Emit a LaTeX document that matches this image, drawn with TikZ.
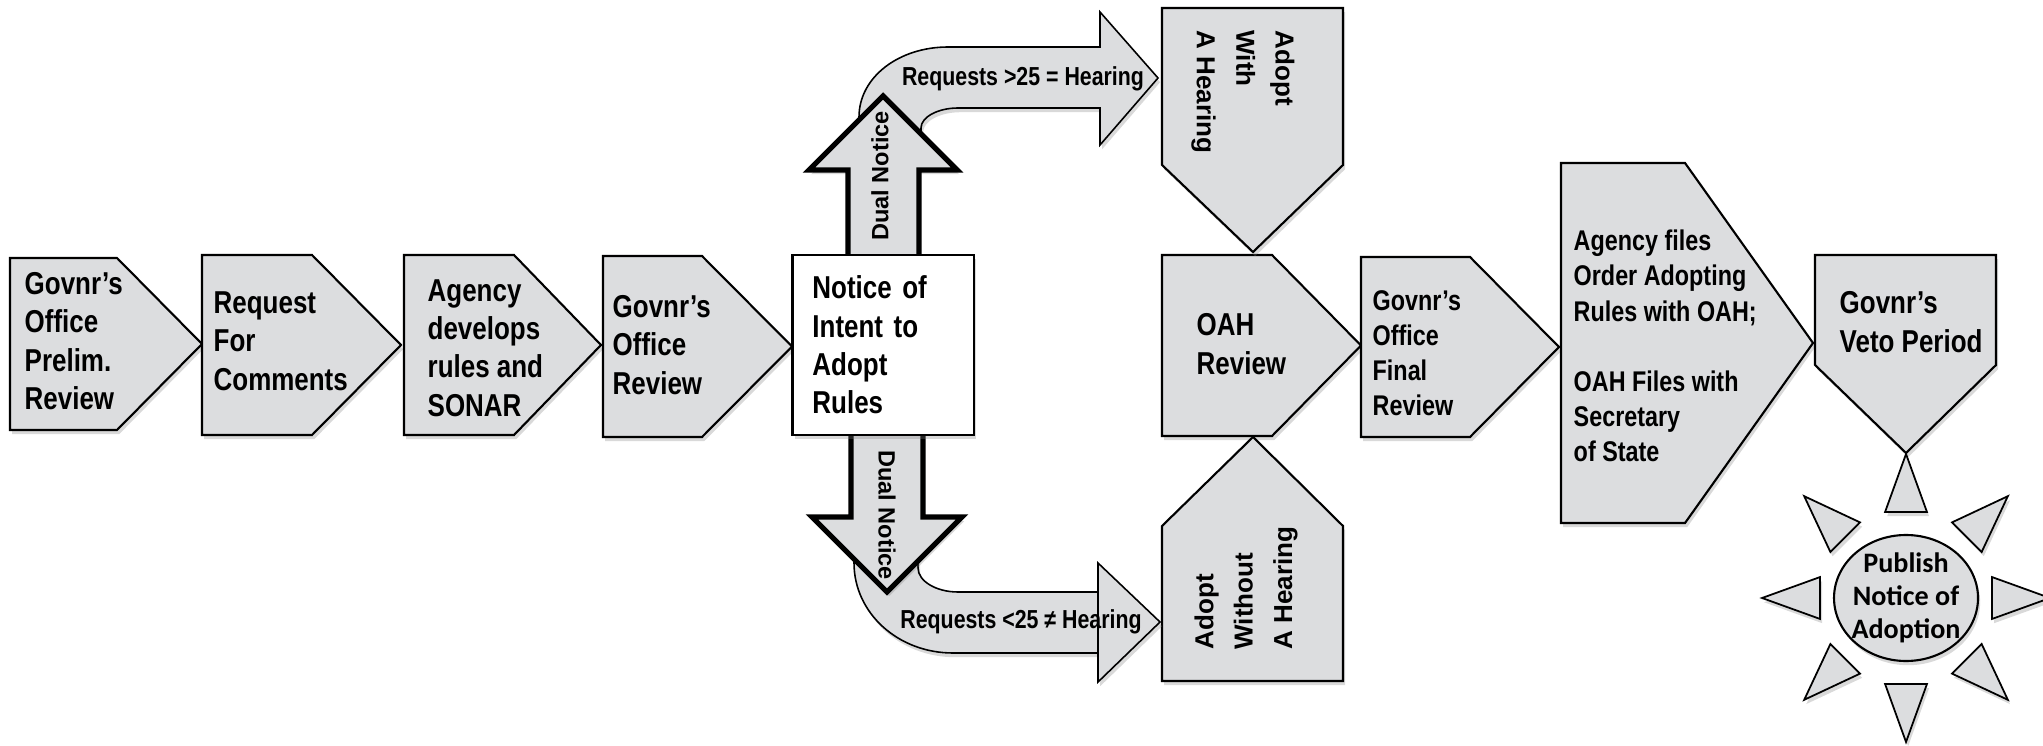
\documentclass[tikz,border=0pt]{standalone}
\usepackage{fontspec}
\usetikzlibrary{shadows}
\newfontfamily\narrowfont{Liberation Sans}[FakeStretch=0.82]
\newfontfamily\arialfont{Liberation Sans}
\newfontfamily\calibrifont{Carlito}
\definecolor{boxgray}{RGB}{220,221,223}

\begin{document}
\begin{tikzpicture}[x=0.01cm, y=-0.01cm, line join=miter]
    \tikzstyle{stage}=[draw=black, fill=boxgray, line width=0.6pt, drop shadow={shadow xshift=0.6pt, shadow yshift=-1.2pt, opacity=0.3}]
    \tikzstyle{stage text}=[anchor=west, align=left, inner sep=0pt, font=\narrowfont\bfseries\fontsize{9}{10.9}\selectfont]
    \tikzstyle{small text}=[stage text, font=\narrowfont\bfseries\fontsize{8.1}{10}\selectfont]
    \tikzstyle{side text}=[align=left, inner sep=0pt, font=\arialfont\bfseries\fontsize{7.4}{11.2}\selectfont]
    \tikzstyle{dual text}=[inner sep=0pt, font=\arialfont\bfseries\fontsize{6.7}{8}\selectfont]
    \tikzstyle{request text}=[inner sep=0pt, font=\narrowfont\bfseries\fontsize{7.4}{9}\selectfont]
    \tikzstyle{publish text}=[align=center, inner sep=0pt, font=\calibrifont\bfseries\fontsize{8}{9.4}\selectfont]
    \tikzstyle{bent arrow}=[stage, line width=0.45pt]
    \tikzstyle{dual arrow}=[stage, line width=1.5pt]
    \tikzstyle{ray}=[stage, line width=0.5pt]

    \useasboundingbox (0,0) rectangle (2043,746);

    % Draw the chevrons that point right
    \foreach \l/\t/\b/\r/\p in {10/258/430/117/202, 202/255/435/312/401, 404/255/435/514/601, 603/256/437/702/792, 1162/255/436/1272/1361, 1361/257/437/1470/1559, 1561/163/523/1685/1813}
        \draw[stage] (\l,\t) -- (\r,\t) -- (\p,{(\t+\b)/2}) -- (\r,\b) -- (\l,\b) -- cycle;

    % Draw the two adopt boxes and the veto box
    \draw[stage] (1162,8) -- (1343,8) -- (1343,165) -- (1253,252) -- (1162,165) -- cycle;
    \draw[stage] (1162,681) -- (1343,681) -- (1343,526) -- (1253,437) -- (1162,526) -- cycle;
    \draw[stage] (1815,255) -- (1996,255) -- (1996,365) -- (1906,453) -- (1815,365) -- cycle;

    % Bent arrows go behind the dual notice arrows
    \draw[bent arrow] (859,150) -- (859,117) .. controls (859,77) and (899,47) .. (948,47) -- (1100,47) -- (1100,12) -- (1158,78) -- (1100,145) -- (1100,108) -- (958,108) .. controls (938,108) and (921,117) .. (921,128) -- (921,150) -- cycle;
    \draw[bent arrow] (854,540) -- (854,563) .. controls (854,613) and (898,653) .. (953,653) -- (1098,653) -- (1098,563) -- (1160,622) -- (1098,682) -- (1098,592) -- (958,592) .. controls (936,592) and (918,581) .. (918,568) -- (918,540) -- cycle;

    % Draw the dual notice arrows
    \draw[dual arrow] (848,255) -- (848,170) -- (809,170) -- (883,96) -- (957,170) -- (919,170) -- (919,255);
    \draw[dual arrow] (851,435) -- (851,517) -- (812,517) -- (887,592) -- (962,517) -- (923,517) -- (923,435);

    \node[draw=black, fill=white, line width=0.6pt, drop shadow={shadow xshift=0.6pt, shadow yshift=-1.2pt, opacity=0.3}, minimum width=1.81cm, minimum height=1.8cm, text width=1.41cm, inner xsep=0.2cm, align=left, font=\narrowfont\bfseries\fontsize{9}{10.9}\selectfont] (notice) at (883,345) {Notice of\\Intent to\\Adopt\\Rules};

    % Text of the stages
    \node[stage text] (prelim) at (24,341) {Govnr’s\\Office\\Prelim.\\Review};
    \node[stage text] (comments) at (213,341) {Request\\For\\Comments};
    \node[stage text] (sonar) at (427,348) {Agency\\develops\\rules and\\SONAR};
    \node[stage text] (govreview) at (612,345) {Govnr’s\\Office\\Review};
    \node[stage text] (oah) at (1196,344) {OAH\\Review};
    \node[small text] (final) at (1372,353) {Govnr’s\\Office\\Final\\Review};
    \node[small text] (files) at (1573,346) {Agency files\\Order Adopting\\Rules with OAH;\\[10pt]OAH Files with\\Secretary\\of State};
    \node[stage text] (veto) at (1839,322) {Govnr’s\\Veto Period};

    \node[side text, rotate=-90] (withhearing) at (1243,92) {Adopt\\With\\A Hearing};
    \node[side text, rotate=90] (withouthearing) at (1246,588) {Adopt\\Without\\A Hearing};

    \node[dual text, rotate=90] (dualup) at (880,176) {Dual Notice};
    \node[dual text, rotate=-90] (dualdown) at (887,515) {Dual Notice};

    \node[request text] (reqmore) at (1023,79) {Requests >25 = Hearing};
    \node[request text] (reqless) at (1021,622) {Requests <25 ≠ Hearing};

    % Draw the sun round the publish notice
    \coordinate (sun) at (1906,598);
    \foreach \a in {0,45,...,315}
        \draw[ray, shift={(sun)}] (\a:144) -- (\a+13.7:88.5) -- (\a-13.7:88.5) -- cycle;
    \draw[stage] (sun) ellipse [x radius=72, y radius=63];
    \node[publish text] (publish) at (sun) {Publish\\Notice of\\Adoption};
\end{tikzpicture}
\end{document}
